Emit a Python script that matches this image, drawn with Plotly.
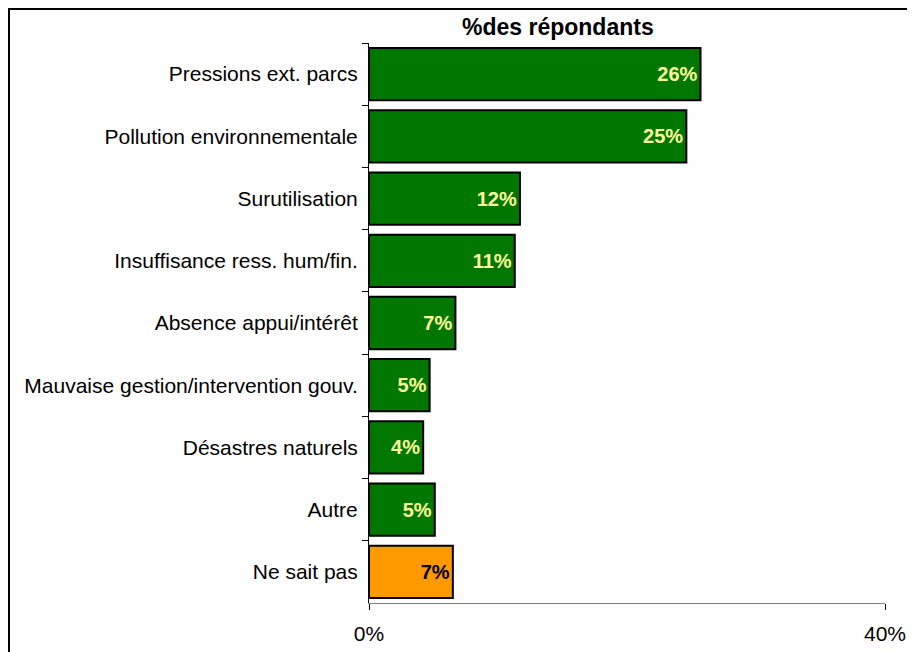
import plotly.graph_objects as go

# %% données (en % des répondants)
categories = [
    "Pressions ext. parcs",
    "Pollution environnementale",
    "Surutilisation",
    "Insuffisance ress. hum/fin.",
    "Absence appui/intérêt",
    "Mauvaise gestion/intervention gouv.",
    "Désastres naturels",
    "Autre",
    "Ne sait pas",
]
valeurs = [25.7, 24.6, 11.7, 11.3, 6.7, 4.7, 4.2, 5.1, 6.5]
etiquettes = ["26%", "25%", "12%", "11%", "7%", "5%", "4%", "5%", "7%"]

couleurs = ["#007700"] * 8 + ["#FF9900"]
couleurs_texte = ["#FFFF99"] * 8 + ["#000000"]

fig = go.Figure()
fig.add_trace(
    go.Bar(
        x=valeurs,
        y=categories,
        orientation="h",
        marker={"color": couleurs, "line": {"color": "black", "width": 2}},
        width=0.84,
        text=etiquettes,
        textposition="inside",
        insidetextanchor="end",
        textangle=0,
        textfont={
            "family": "Liberation Sans, Arial",
            "size": 20,
            "color": couleurs_texte,
            "weight": "bold",
        },
        cliponaxis=False,
        showlegend=False,
    )
)

# la page ajoute 8 px de marge autour de la figure : on compense ici
fig.update_layout(
    width=915,
    height=652,
    margin={"l": 361, "r": 38, "t": 35, "b": 57},
    paper_bgcolor="white",
    plot_bgcolor="white",
    font={"family": "Liberation Sans, Arial", "size": 21, "color": "black"},
    xaxis={
        "range": [0, 40],
        "tickvals": [0, 40],
        "ticktext": ["0%", "40%"],
        "showgrid": False,
        "zeroline": False,
        "showline": True,
        "linecolor": "#808080",
        "linewidth": 1,
        "ticks": "outside",
        "ticklen": 6,
        "tickcolor": "black",
        "ticklabelstandoff": 6,
        "tickfont": {"size": 21},
        "fixedrange": True,
    },
    yaxis={
        "autorange": "reversed",
        "showgrid": False,
        "showline": True,
        "linecolor": "black",
        "linewidth": 1,
        "ticks": "outside",
        "tickson": "boundaries",
        "ticklen": 6,
        "tickcolor": "black",
        "ticklabelstandoff": 6,
        "tickfont": {"size": 21},
        "fixedrange": True,
    },
    annotations=[
        {
            "text": "<b>%des répondants</b>",
            "xref": "paper",
            "yref": "paper",
            "x": 0.366,
            "y": 1.0,
            "xanchor": "center",
            "yanchor": "bottom",
            "yshift": 1,
            "showarrow": False,
            "font": {"size": 23},
        }
    ],
    shapes=[
        {
            "type": "rect",
            "xref": "paper",
            "yref": "paper",
            "x0": -0.6977,
            "x1": 1.2,
            "y0": -0.3,
            "y1": 1.0607,
            "line": {"color": "black", "width": 2},
            "layer": "below",
        }
    ],
)

fig.write_html("out.html")
